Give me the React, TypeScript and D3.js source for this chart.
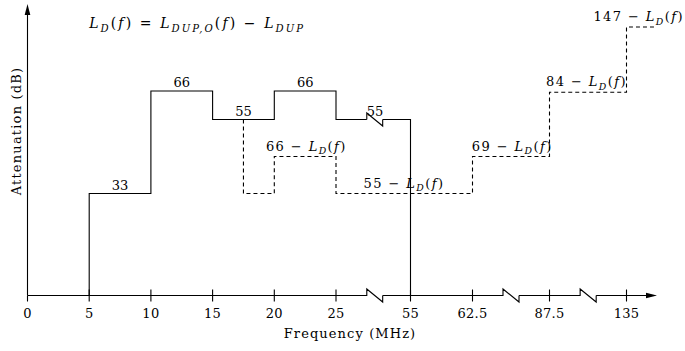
import React from "react";
import * as d3 from "d3";

const W = 685;
const H = 351;

// frequency axis is broken: tick values in MHz and their labels
const freqTicks = [0, 5, 10, 15, 20, 25, 55, 62.5, 87.5, 135];
const freqTickLabels = ["0", "5", "10", "15", "20", "25", "55", "62.5", "87.5", "135"];
// where the axis is broken (start, end), in MHz of the piecewise scale
const axisBreaks: [number, number][] = [[37.4, 43.8], [72.4, 77.6], [106.4, 116.3]];
const lineBreak: [number, number] = [37.4, 43.8];

// solid limit, dB (schematic levels)
const solidF = [5, 5, 10, 10, 15, 15, 20, 20, 25, 25, 37.4];
const solidDb = [0, 33, 33, 66, 66, 55, 55, 66, 66, 55, 55];
const solidTailF = [43.8, 55, 55];
const solidTailDb = [55, 55, 0];

// dashed limit, drawn levels
const dashF = [17.5, 17.5, 20, 20, 25, 25, 62.5, 62.5, 87.5, 87.5, 135, 135, 153];
const dashDb = [55, 33, 33, 44, 44, 33, 33, 44, 44, 65.5, 65.5, 90, 90];

// plain level labels
const levelText = ["33", "66", "55", "66", "55"];
const levelF = [7.5, 12.5, 17.5, 22.5, 37.4];
const levelDb = [33, 66, 55, 66, 55];

// "N - L_D(f)" labels on the dashed steps
const ldConst = ["66", "55", "69", "84", "147"];
const ldF = [22.6, 52.4, 75.4, 110.3, 142.5];
const ldDb = [44, 33, 44, 65.5, 90];

type Part = { s: string; it?: boolean; sub?: boolean };

const FONT = "DejaVu Serif";

function MathText({ parts, x, y, size, anchor = "start", spacing = 1.2 }: {
  parts: Part[]; x: number; y: number; size: number; anchor?: string; spacing?: number;
}) {
  let inSub = false;
  const sh = size * 0.28;
  return (
    <text x={x} y={y} style={{ fontFamily: FONT, fontSize: size, letterSpacing: spacing }} textAnchor={anchor}>
      {parts.map((p, i) => {
        let dy = 0;
        if (p.sub && !inSub) { dy = sh; inSub = true; }
        else if (!p.sub && inSub) { dy = -sh; inSub = false; }
        return (
          <tspan key={i} dy={dy} style={{ fontFamily: FONT, fontStyle: p.it ? "italic" : "normal", fontSize: p.sub ? size * 0.72 : size }}>{p.s}</tspan>
        );
      })}
    </text>
  );
}

const ldParts = (c: string): Part[] => [
  { s: c + " \u2212 " }, { s: "L", it: true }, { s: "D", it: true, sub: true },
  { s: "(" }, { s: "f", it: true }, { s: ")" },
];

const formulaParts: Part[] = [
  { s: "L", it: true }, { s: "D", it: true, sub: true }, { s: "(" }, { s: "f", it: true }, { s: ") = " },
  { s: "L", it: true }, { s: "DUP,O", it: true, sub: true }, { s: "(" }, { s: "f", it: true }, { s: ") \u2212 " },
  { s: "L", it: true }, { s: "DUP", it: true, sub: true },
];

export default function App() {
  const x = d3.scaleLinear()
    .domain([0, 25, 55, 62.5, 87.5, 135])
    .range([27.5, 336, 410.5, 472.5, 549.5, 626.5]);
  const y = d3.scaleLinear()
    .domain([0, 33, 55, 66, 90])
    .range([295.5, 193.5, 119.5, 91, 27]);

  const x0 = x(0);
  const y0 = y(0);
  const xEnd = 657;
  const yTop = 4;
  const zz = 6.5;

  const pathOf = (fs: number[], vs: number[]) =>
    d3.line<number>().x((f) => x(f)).y((_, i) => y(vs[i]))(fs) as string;

  // x axis with breaks
  const axisPts: string[] = [];
  let from = x0;
  axisBreaks.forEach(([a, b]) => {
    axisPts.push(`M${from},${y0}H${x(a)}V${y0 - zz}L${x(b)},${y0 + zz}V${y0}`);
    from = x(b);
  });
  axisPts.push(`M${from},${y0}H${xEnd - 8}`);

  const lb = `M${x(lineBreak[0])},${y(55)}V${y(55) - zz}L${x(lineBreak[1])},${y(55) + zz}V${y(55)}`;

  const txt = { fontFamily: FONT, fontSize: 13 };

  return (
    <svg width={W} height={H} style={{ position: "absolute", left: 0, top: 0, background: "#fff" }}>
      <g stroke="#000" strokeWidth={1.1} fill="none">
        <path d={axisPts.join("")} />
        <path d={`M${x0},${y0}V${yTop + 8}`} />
        {freqTicks.map((t) => (
          <line key={t} x1={x(t)} x2={x(t)} y1={t === 0 ? y0 : y0 - 6} y2={y0 + 6} />
        ))}
        <path d={pathOf(solidF, solidDb)} />
        <path d={lb} />
        <path d={pathOf(solidTailF, solidTailDb)} />
        <path d={pathOf(dashF, dashDb)} strokeDasharray="4,3" />
      </g>
      <path d={`M${xEnd},${y0}L${xEnd - 11},${y0 - 2.8}L${xEnd - 11},${y0 + 2.8}Z`} fill="#000" />
      <path d={`M${x0},${yTop}L${x0 - 2.8},${yTop + 11}L${x0 + 2.8},${yTop + 11}Z`} fill="#000" />

      <g textAnchor="middle">
        {freqTicks.map((t, i) => (
          <text key={t} x={x(t)} y={318} style={{ ...txt, letterSpacing: 0.3 }}>{freqTickLabels[i]}</text>
        ))}
        <text x={350} y={338} style={{ ...txt, letterSpacing: 1.1 }}>Frequency (MHz)</text>
        <text transform={`translate(21,131) rotate(-90)`} style={{ ...txt, letterSpacing: 1.2 }}>Attenuation (dB)</text>
        {levelText.map((s, i) => (
          <text key={i} x={x(levelF[i])} y={y(levelDb[i]) - 4} style={{ ...txt, letterSpacing: 0 }}
            textAnchor={i === 4 ? "start" : "middle"}>{s}</text>
        ))}
      </g>
      {ldConst.map((c, i) => (
        <MathText key={c} parts={ldParts(c)} x={x(ldF[i])} y={y(ldDb[i]) - 6} size={13} anchor="middle" spacing={1.4} />
      ))}
      <MathText parts={formulaParts} x={x(5)} y={28} size={14} spacing={2.1} />
    </svg>
  );
}
